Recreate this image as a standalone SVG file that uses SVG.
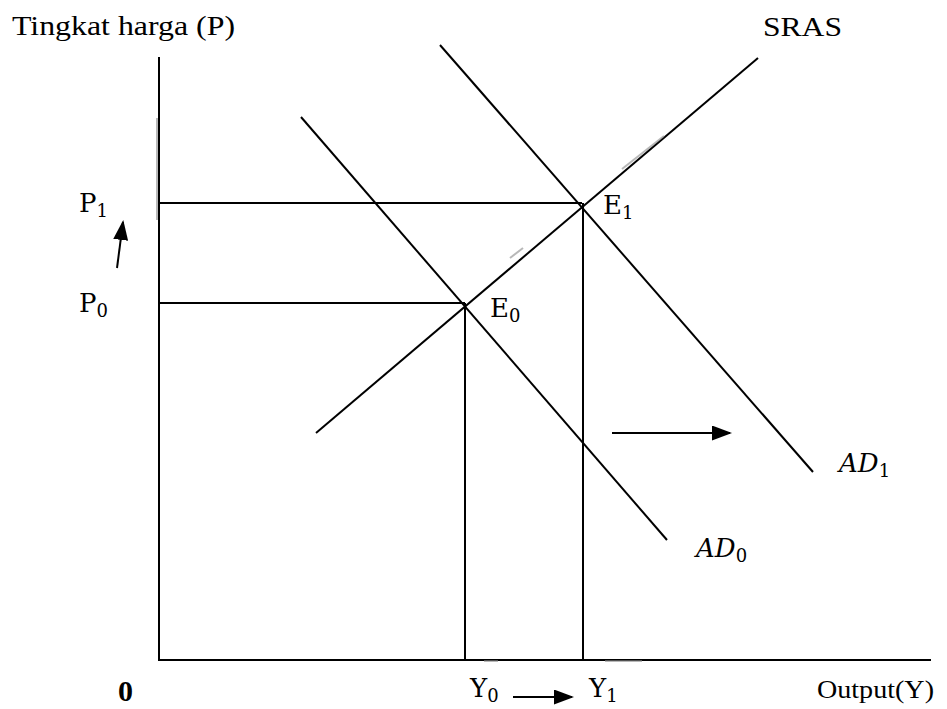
<svg xmlns="http://www.w3.org/2000/svg" width="947" height="709" viewBox="0 0 947 709">
<style>
.ln{stroke:#000;stroke-width:2;fill:none}
.t{font-family:"Liberation Serif","Times New Roman",serif;fill:#000}
.m{font-family:"DejaVu Serif","Liberation Serif",serif;fill:#000;font-size:26px}
.s{font-size:18px}
.faint{stroke:#888;stroke-width:2;fill:none;opacity:0.6}
</style>
<defs>
<marker id="ahb" viewBox="0 0 10 10" refX="9" refY="5" markerWidth="20" markerHeight="15" orient="auto" markerUnits="userSpaceOnUse" preserveAspectRatio="none">
<path d="M0,0 L10,5 L0,10 z" fill="#000"/>
</marker>
</defs>
<rect width="947" height="709" fill="#fff"/>
<g id="axes">
<line class="ln" x1="159" y1="57" x2="159" y2="661"/>
<line class="ln" x1="158" y1="660" x2="931" y2="660"/>
</g>
<g id="connectors">
<line class="ln" x1="159" y1="203" x2="582" y2="203"/>
<line class="ln" x1="159" y1="303" x2="465" y2="303"/>
<line class="ln" x1="465" y1="303" x2="465" y2="660"/>
<line class="ln" x1="583" y1="203" x2="583" y2="660"/>
<line class="ln" x1="316" y1="433" x2="758" y2="58"/>
<line class="ln" x1="301" y1="117" x2="667" y2="540"/>
<line class="ln" x1="440" y1="45" x2="813" y2="472"/>
<line class="ln" x1="612" y1="433" x2="730" y2="433" marker-end="url(#ahb)"/>
<line class="ln" x1="117" y1="268" x2="123" y2="222" marker-end="url(#ahb)"/>
<line class="ln" x1="513" y1="697" x2="572" y2="697" marker-end="url(#ahb)"/>
</g>
<g id="artifacts">
<line class="faint" x1="622" y1="169" x2="664" y2="136"/>
<line class="faint" x1="510" y1="258" x2="523" y2="248"/>
<line class="faint" x1="484" y1="661" x2="498" y2="661"/>
<line class="faint" x1="605" y1="661" x2="642" y2="661"/>
<line class="faint" x1="157" y1="118" x2="157" y2="220"/>
</g>
<g id="labels">
<text id="ylabel" class="t" x="12" y="35" font-size="27" textLength="223" lengthAdjust="spacingAndGlyphs">Tingkat harga (P)</text>
<text id="sras" class="t" x="763" y="36" font-size="27" textLength="79" lengthAdjust="spacingAndGlyphs">SRAS</text>
<text id="xlabel" class="t" x="817" y="698" font-size="25" textLength="117" lengthAdjust="spacingAndGlyphs">Output(Y)</text>
<text id="origin" class="t" x="118" y="701" font-size="30" font-weight="bold">0</text>
<text id="p1" class="m" x="79" y="212">P<tspan class="s" dy="5">1</tspan></text>
<text id="p0" class="m" x="79" y="312">P<tspan class="s" dy="5">0</tspan></text>
<text id="e1" class="m" x="603" y="214">E<tspan class="s" dy="5">1</tspan></text>
<text id="e0" class="m" x="490" y="317">E<tspan class="s" dy="5">0</tspan></text>
<text id="ad1" class="m" x="839" y="472" font-style="italic">AD<tspan class="s" dy="5" font-style="normal">1</tspan></text>
<text id="ad0" class="m" x="696" y="557" font-style="italic">AD<tspan class="s" dy="5" font-style="normal">0</tspan></text>
<text id="y0" class="m" x="470" y="697">Y<tspan class="s" dy="5">0</tspan></text>
<text id="y1" class="m" x="589" y="697">Y<tspan class="s" dy="5">1</tspan></text>
</g>
</svg>
